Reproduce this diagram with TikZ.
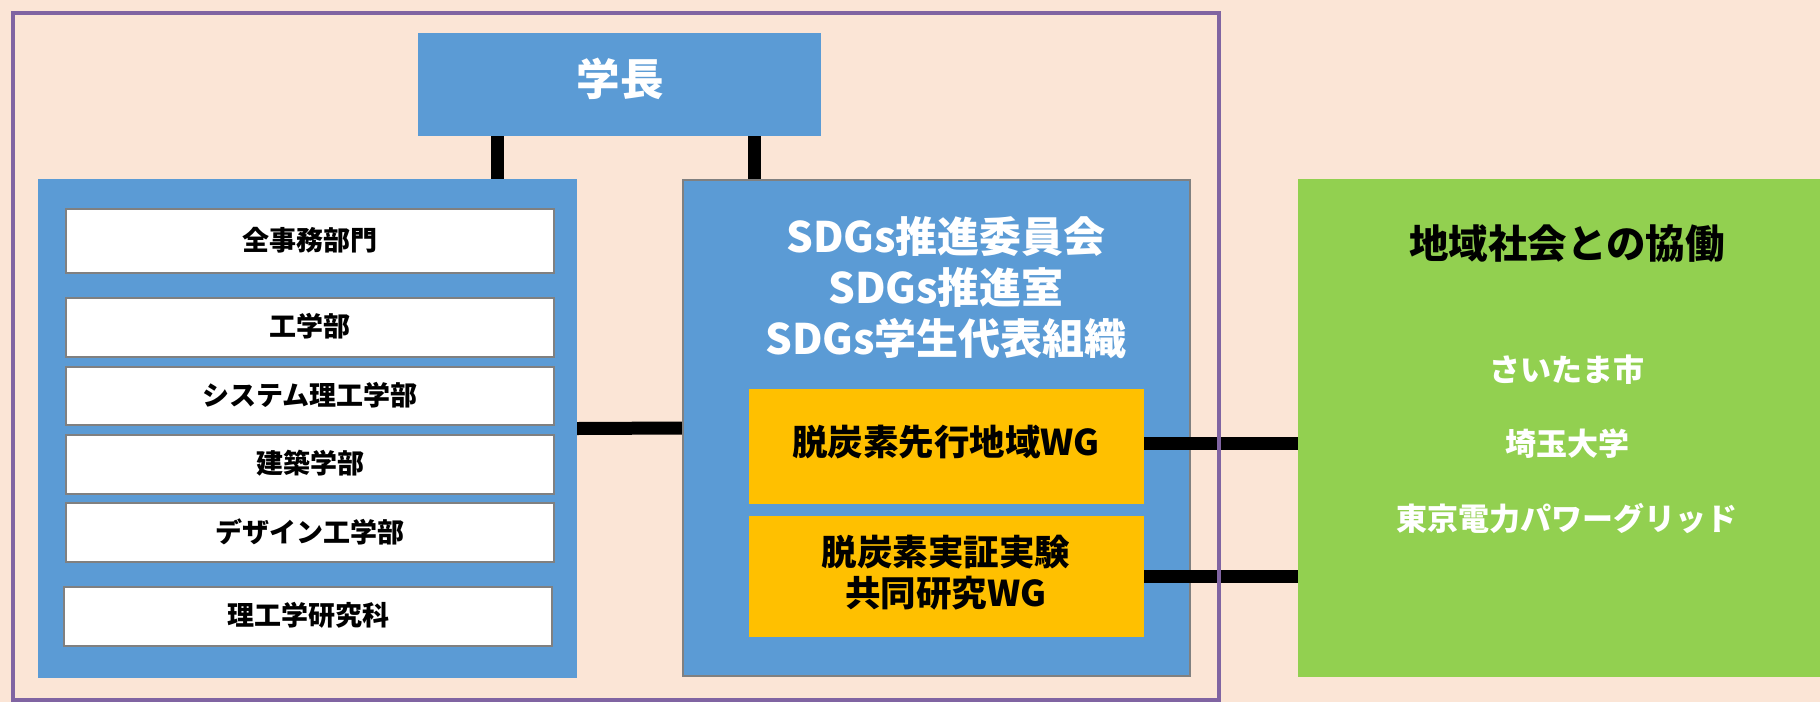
\documentclass[tikz,border=0pt]{standalone}
\usepackage{fontspec}
\newfontfamily\jp{Noto Sans CJK JP}
\definecolor{bgc}{HTML}{FBE5D6}
\definecolor{bluec}{HTML}{5B9BD5}
\definecolor{orangec}{HTML}{FFC000}
\definecolor{greenc}{HTML}{92D050}
\definecolor{purplec}{HTML}{8064A2}
\definecolor{grayc}{HTML}{808080}
\begin{document}
\begin{tikzpicture}[x=1pt,y=-1pt,
  base/.style={inner sep=0pt, outer sep=0pt, align=center},
  bluebox/.style={base, fill=bluec},
  whitebox/.style={base, fill=white, draw=grayc, line width=2pt, minimum width=488pt},
  wtext/.style={base, font=\jp\bfseries\fontsize{27}{31}\selectfont},
  wgbox/.style={base, fill=orangec, minimum width=395pt},
  wgtext/.style={base, font=\jp\bfseries\fontsize{35.5}{41}\selectfont},
  conn/.style={line width=13pt, black},
  member/.style={base, text=white, font=\jp\bfseries\fontsize{31}{36}\selectfont}
]
\useasboundingbox (0,0) rectangle (1820,702);
\fill[bgc] (0,0) rectangle (1820,702);

% boxes
\node[bluebox, minimum width=403pt, minimum height=103pt] (gakucho) at (619.5,84.5) {};
\node[base, text=white, font=\jp\bfseries\fontsize{43.5}{50}\selectfont] (gakuchot) at (620,79) {学長};
\node[bluebox, minimum width=539pt, minimum height=499pt] (left) at (307.5,428.5) {};
\node[bluebox, draw=grayc, line width=2pt, minimum width=507pt, minimum height=496pt] (sdgs) at (936.5,428) {};
\node[base, fill=greenc, minimum width=532pt, minimum height=498pt] (green) at (1564,428) {};

% connectors
\draw[conn] ([xshift=-122.5pt]gakucho.south) -- ([xshift=-122.5pt]gakucho.south |- left.north);
\draw[conn] ([xshift=134.5pt]gakucho.south) -- ([xshift=134.5pt]gakucho.south |- sdgs.north);
\draw[conn] (left.east) -- (sdgs.west);

% redraw boxes on top of connector ends
\node[bluebox, minimum width=539pt, minimum height=499pt] (leftover) at (307.5,428.5) {};
\node[bluebox, draw=grayc, line width=2pt, minimum width=507pt, minimum height=496pt] (sdgsover) at (936.5,428) {};

% white boxes
\node[whitebox, minimum height=64pt] (w1) at (310,241) {};
\node[wtext] (w1t) at (310,240) {全事務部門};
\node[whitebox, minimum height=59pt] (w2) at (310,327.5) {};
\node[wtext] (w2t) at (310,326.5) {工学部};
\node[whitebox, minimum height=58pt] (w3) at (310,396) {};
\node[wtext] (w3t) at (310,395) {システム理工学部};
\node[whitebox, minimum height=59pt] (w4) at (310,464.5) {};
\node[wtext] (w4t) at (310,463.5) {建築学部};
\node[whitebox, minimum height=59pt] (w5) at (310,532.5) {};
\node[wtext] (w5t) at (310,531.5) {デザイン工学部};
\node[whitebox, minimum height=59pt] (w6) at (308,616.5) {};
\node[wtext] (w6t) at (308,615.5) {理工学研究科};

% SDGs text
\node[base, text=white, font=\jp\bfseries\fontsize{42}{51}\selectfont] (sdgstext) at (946,288)
  {SDGs推進委員会\\SDGs推進室\\SDGs学生代表組織};

% WG boxes
\node[wgbox, minimum height=115pt] (wg1) at (946.5,446.5) {};
\node[wgtext] (wg1t) at (946,442) {脱炭素先行地域WG};
\node[wgbox, minimum height=121pt] (wg2) at (946.5,576.5) {};
\node[wgtext] (wg2t) at (946,572.5) {脱炭素実証実験\\共同研究WG};

\draw[conn] (wg1.east) ++(0,-3) coordinate (wg1c) -- (wg1c -| green.west);
\draw[conn] (wg2.east) -- (wg2.east -| green.west);

% green texts
\node[base, font=\jp\bfseries\fontsize{39.5}{46}\selectfont] (gtitle) at (1567,244) {地域社会との協働};
\node[member] (m1) at (1567,370) {さいたま市};
\node[member] (m2) at (1567,444) {埼玉大学};
\node[member] (m3) at (1567,518) {東京電力パワーグリッド};

% frame
\draw[purplec, line width=4pt] (12.5,12.5) rectangle (1219,700);
\end{tikzpicture}
\end{document}
